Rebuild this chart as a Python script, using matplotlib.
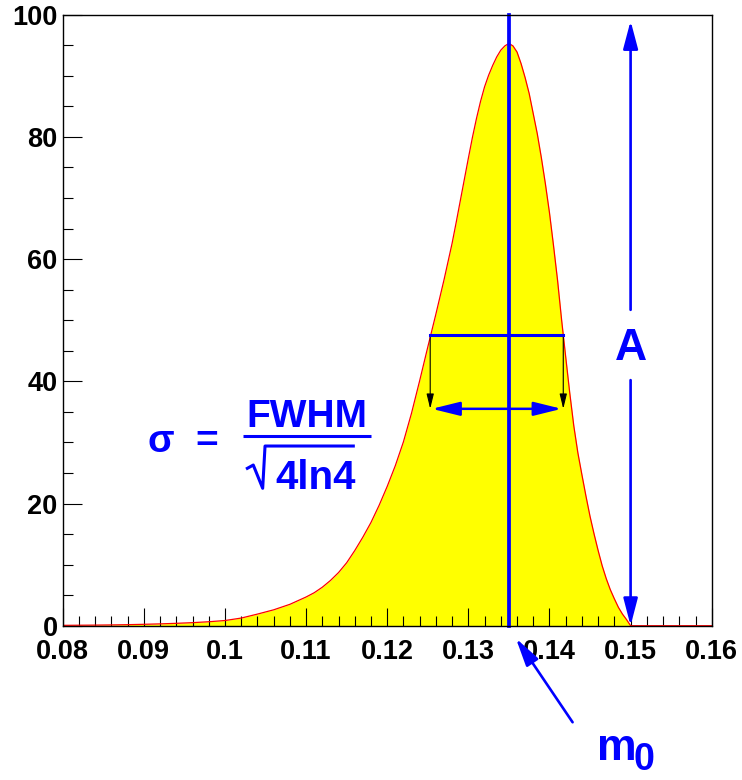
import matplotlib
matplotlib.use("Agg")
import matplotlib.pyplot as plt
from matplotlib.ticker import MultipleLocator

plt.rcParams['font.family'] = ['Liberation Sans', 'DejaVu Sans']
plt.rcParams['font.weight'] = 'bold'

# curve (x, height)
curve_x = [0.080, 0.082, 0.084, 0.086, 0.088, 0.090, 0.092, 0.094, 0.096, 0.098,
           0.100, 0.102, 0.104, 0.106, 0.108, 0.110, 0.111, 0.112, 0.113, 0.114,
           0.115, 0.116, 0.117, 0.118, 0.119, 0.120, 0.121, 0.122, 0.123, 0.124,
           0.125, 0.126, 0.127, 0.128, 0.1285, 0.129, 0.1295, 0.130, 0.1305, 0.131,
           0.1315, 0.132, 0.1325, 0.133, 0.1335, 0.134, 0.1345, 0.135, 0.1355, 0.136,
           0.1365, 0.137, 0.1375, 0.138, 0.1385, 0.139, 0.1395, 0.140, 0.1405, 0.141,
           0.1415, 0.142, 0.1425, 0.143, 0.1435, 0.144, 0.1445, 0.145, 0.1455, 0.146,
           0.1465, 0.147, 0.1475, 0.148, 0.1485, 0.149, 0.1495, 0.150, 0.160]
curve_y = [0.06, 0.08, 0.10, 0.13, 0.17, 0.23, 0.30, 0.39, 0.50, 0.65,
           0.85, 1.25, 1.9, 2.6, 3.5, 4.7, 5.4, 6.3, 7.4, 8.7,
           10.3, 12.3, 14.5, 16.9, 19.7, 22.8, 26.2, 30.1, 34.8, 40.1,
           45.6, 51.0, 56.6, 62.6, 66.0, 69.5, 73.0, 76.5, 79.9, 83.0,
           85.8, 88.2, 90.1, 91.7, 93.1, 94.2, 94.9, 95.3, 94.9, 93.9,
           92.0, 89.7, 87.1, 83.8, 80.5, 76.6, 72.3, 67.6, 62.2, 56.5,
           50.0, 44.0, 38.1, 32.7, 28.3, 24.7, 21.2, 17.9, 15.0, 12.3,
           9.8, 7.7, 5.9, 4.4, 3.0, 1.9, 1.0, 0.0, 0.0]

m0 = 0.135
amp = 99.0
half_max = 47.6
fwhm_lo, fwhm_hi = 0.1253, 0.1417
fwhm_arrow_y = 35.5

x_ticks = [0.08, 0.09, 0.10, 0.11, 0.12, 0.13, 0.14, 0.15, 0.16]
x_labels = ['0.08', '0.09', '0.1', '0.11', '0.12', '0.13', '0.14', '0.15', '0.16']
y_ticks = [0, 20, 40, 60, 80, 100]
y_labels = ['0', '20', '40', '60', '80', '100']

BLUE = '#0000ff'


def arrow(ax, start, end, color, lw, hl, hw, style='-|>'):
    ax.annotate('', xy=end, xytext=start, xycoords='data', annotation_clip=False,
                arrowprops=dict(arrowstyle=f'{style},head_length={hl},head_width={hw}',
                                color=color, lw=lw, shrinkA=0, shrinkB=0,
                                mutation_scale=1))


fig = plt.figure(figsize=(7.42, 7.8), dpi=100)
ax = fig.add_axes([0.0845, 0.1978, 0.8747, 0.7833])

ax.fill_between(curve_x, curve_y, 0, color='#ffff00', lw=0, zorder=1)
ax.plot(curve_x, curve_y, color='#ff0000', lw=0.9, zorder=2)

ax.set_xlim(0.08, 0.16)
ax.set_ylim(0, 100)
ax.set_xticks(x_ticks)
ax.set_xticklabels(x_labels)
ax.set_yticks(y_ticks)
ax.set_yticklabels(y_labels)
ax.xaxis.set_minor_locator(MultipleLocator(0.002))
ax.yaxis.set_minor_locator(MultipleLocator(5))
ax.tick_params(which='both', direction='in', width=0.8, color='black',
               top=False, right=False, labelsize=19.5)
ax.tick_params(axis='x', which='major', length=13, pad=9.5)
ax.tick_params(axis='x', which='minor', length=7.5)
ax.tick_params(axis='y', which='major', length=13.5, pad=3.6)
ax.tick_params(axis='y', which='minor', length=7)
for sp in ax.spines.values():
    sp.set_linewidth(1.0)
    sp.set_zorder(5)

# peak position line
ax.plot([m0, m0], [0, 100], color=BLUE, lw=2.7, zorder=4, clip_on=False)

# full width at half maximum
ax.plot([fwhm_lo, fwhm_hi], [half_max, half_max], color=BLUE, lw=2.2, zorder=4)
arrow(ax, (fwhm_lo, half_max), (fwhm_lo, fwhm_arrow_y), 'black', 0.8, 9, 2.2)
arrow(ax, (fwhm_hi, half_max), (fwhm_hi, fwhm_arrow_y), 'black', 0.8, 9, 2.2)
arrow(ax, (fwhm_lo + 0.0002, fwhm_arrow_y), (fwhm_hi - 0.0002, fwhm_arrow_y),
      BLUE, 1.8, 17, 4.2, style='<|-|>')

# amplitude
arrow(ax, (0.150, 51.7), (0.150, amp), BLUE, 1.9, 17, 4.5)
arrow(ax, (0.150, 40.2), (0.150, 0.0), BLUE, 1.9, 16.5, 4.3)
ax.text(0.1501, 43.5, 'A', color=BLUE, fontsize=32, ha='center', va='baseline')

# sigma formula
ax.text(0.0921, 28.4, 'σ', color=BLUE, fontsize=28, ha='center', va='baseline')
ax.text(0.0977, 28.4, '=', color=BLUE, fontsize=28, ha='center', va='baseline')
ax.text(0.1101, 32.5, 'FWHM', color=BLUE, fontsize=28, ha='center', va='baseline')
ax.plot([0.1022, 0.1180], [31.05, 31.05], color=BLUE, lw=2.2, solid_capstyle='butt')
ax.plot([0.10276, 0.10349, 0.10465, 0.10494, 0.11582],
        [25.76, 26.30, 22.49, 29.41, 29.41], color=BLUE, lw=2.2)
ax.text(0.1112, 22.4, '4ln4', color=BLUE, fontsize=29, ha='center', va='baseline')

# m0 label below the axis
arrow(ax, (0.14285, -15.8), (0.13586, -2.06), BLUE, 1.9, 17, 4.3)
ax.text(0.1459, -22.0, 'm', color=BLUE, fontsize=32, ha='left', va='baseline')
ax.text(0.1504, -23.6, '0', color=BLUE, fontsize=27, ha='left', va='baseline')

fig.savefig('out.png', dpi=100)
